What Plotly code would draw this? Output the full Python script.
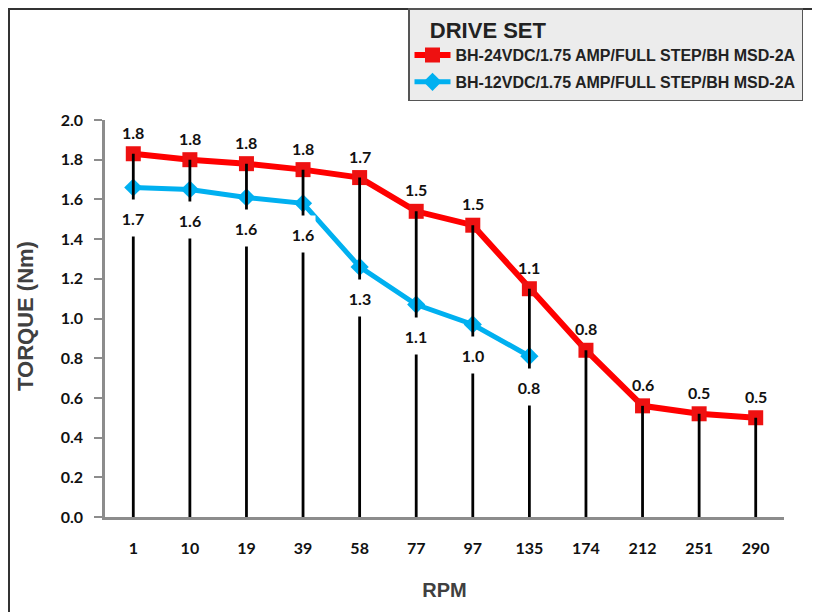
import plotly.graph_objects as go

rpm = ["1", "10", "19", "39", "58", "77", "97", "135", "174", "212", "251", "290"]
torque_24v = [1.83, 1.80, 1.78, 1.75, 1.71, 1.54, 1.47, 1.15, 0.84, 0.56, 0.52, 0.50]
torque_12v = [1.66, 1.65, 1.61, 1.58, 1.26, 1.07, 0.97, 0.81]
name_24v = "BH-24VDC/1.75 AMP/FULL STEP/BH MSD-2A"
name_12v = "BH-12VDC/1.75 AMP/FULL STEP/BH MSD-2A"
legend_title = "DRIVE SET"
x_title = "RPM"
y_title = "TORQUE (Nm)"
y_ticks = [0.0, 0.2, 0.4, 0.6, 0.8, 1.0, 1.2, 1.4, 1.6, 1.8, 2.0]

# page body adds an 8px offset, so the figure is laid out 8px smaller
W, H = 812, 604
ML, MR, MT, MB = 97, 36, 112, 95
PW, PH = W - ML - MR, H - MT - MB


def px_x(px):
    return (px - ML) / PW


def px_y(py):
    return (H - MB - py) / PH


RED = "#ff0000"
BLUE = "#00b0f0"
TICKFONT = dict(family="Lato", size=16, color="#111111", weight="bold")
LABELFONT = dict(family="Lato", size=16, color="#111111", weight="bold")
TITLEFONT = dict(family="Liberation Sans", color="#404040", weight="bold")

fig = go.Figure()

fig.add_trace(go.Scatter(
    x=rpm, y=torque_24v, name=name_24v, mode="lines+markers", legendgroup="a",
    line=dict(color=RED, width=6),
    marker=dict(symbol="square", size=15, color="#ee1111"),
))
fig.add_trace(go.Scatter(
    x=rpm[:len(torque_12v)], y=torque_12v, name=name_12v, mode="lines+markers",
    legendgroup="b",
    line=dict(color=BLUE, width=5),
    marker=dict(symbol="diamond", size=14, color=BLUE),
))

# drop lines from each 24V point down to the axis
dx, dy = [], []
for c, v in zip(rpm, torque_24v):
    dx += [c, c, None]
    dy += [0, v, None]
fig.add_trace(go.Scatter(x=dx, y=dy, mode="lines", showlegend=False,
                         line=dict(color="black", width=2.8), hoverinfo="skip"))

for i, v in enumerate(torque_24v):
    fig.add_annotation(x=i, y=v, text=f"{v:.1f}", showarrow=False,
                       yanchor="bottom", yshift=10, font=LABELFONT)
for i, v in enumerate(torque_12v):
    fig.add_annotation(x=i, y=v, text=f"{v:.1f}", showarrow=False,
                       yanchor="top", yshift=-12, height=36, width=24,
                       bgcolor="white", borderpad=0, valign="middle",
                       font=LABELFONT)

# y-axis title
fig.add_annotation(xref="paper", yref="paper", x=px_x(17), y=px_y(308),
                   xanchor="center", yanchor="middle",
                   text=y_title, textangle=-90, showarrow=False,
                   font=dict(size=22, **TITLEFONT))

# outer frame
fig.add_shape(type="rect", xref="paper", yref="paper",
              x0=px_x(1), x1=px_x(806), y0=px_y(640), y1=px_y(1),
              line=dict(color="#333333", width=2), fillcolor="rgba(0,0,0,0)",
              layer="below")

fig.update_layout(
    width=W, height=H,
    margin=dict(l=ML, r=MR, t=MT, b=MB, autoexpand=False),
    paper_bgcolor="white", plot_bgcolor="white",
    showlegend=True,
    legend=dict(
        x=px_x(400), y=px_y(0), xanchor="left", yanchor="top",
        bgcolor="#ececec", bordercolor="#555555", borderwidth=1.5,
        font=dict(family="Liberation Sans", size=16, color="#222222", weight="bold"),
        title=dict(text="   " + legend_title,
                   font=dict(family="Liberation Sans", size=22, color="#222222",
                             weight="bold")),
        itemwidth=36, tracegroupgap=3,
    ),
    xaxis=dict(
        type="category", range=[-0.5, len(rpm) - 0.5],
        showline=True, linecolor="#8c8c8c", linewidth=2.5,
        ticks="", showgrid=False, zeroline=False,
        tickfont=TICKFONT, ticklabelstandoff=15,
        title=dict(text=x_title, font=dict(size=20, **TITLEFONT), standoff=28),
    ),
    yaxis=dict(
        range=[0, 2.0], tickvals=y_ticks, ticktext=[f"{t:.1f}" for t in y_ticks],
        showline=True, linecolor="#8c8c8c", linewidth=2.5,
        ticks="outside", tickcolor="#8c8c8c", ticklen=8, tickwidth=2,
        showgrid=False, zeroline=False, tickfont=TICKFONT, ticklabelstandoff=8,
    ),
)

fig.write_html("out.html")
